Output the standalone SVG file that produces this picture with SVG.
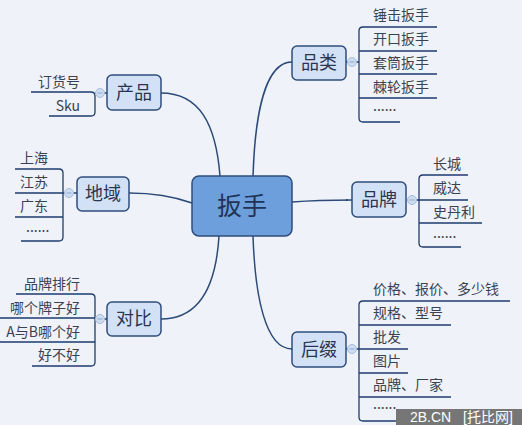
<svg xmlns="http://www.w3.org/2000/svg" width="522" height="425" viewBox="0 0 522 425">
<style>
.bg{fill:#eff3f9}
.node rect{fill:#d3e1f7;stroke:#2f4d7a;stroke-width:1.5}
.node text{font-family:"Noto Sans CJK SC","Liberation Sans",sans-serif;font-size:18px;fill:#2a3550;text-anchor:middle}
#center rect{fill:#6c9fdb;stroke:#2f4d7a;stroke-width:1.5}
#center text{font-size:25px;fill:#1f3358}
.conn path{fill:none;stroke:#2c4a78;stroke-width:1.5}
.br path{fill:none;stroke:#1e3d6e;stroke-width:1.3}
.leaf{font-family:"Noto Sans CJK SC","Liberation Sans",sans-serif;font-size:14px;fill:#3a4252}
.r{text-anchor:end}
.tog circle{fill:#cddcf1;stroke:#a5bddc;stroke-width:1}
.tog path{stroke:#8fa9cc;stroke-width:1}
</style>
<rect class="bg" x="0" y="0" width="522" height="425"/>
<g class="conn">
<path d="M161,93 C200,93 216,125 220,176"/>
<path d="M292,62 C265,62 255,115 253,176"/>
<path d="M129,193 C160,193 178,198 192,203"/>
<path d="M292,202 C318,200 335,200 352,200"/>
<path d="M161,319 C200,319 216,285 219,236"/>
<path d="M292,349 C265,349 255,295 253,236"/>
</g>
<g class="br">
<path d="M31,92 H91 Q95,92 95,96 V112 Q95,116 91,116 H49 M95,93 H96"/>
<path d="M437,27 H363 Q359,27 359,31 V118 Q359,122 363,122 H400 M359,51 H437 M359,74 H437 M359,98 H437 M356,62 H359"/>
<path d="M15,169 H59 Q63,169 63,173 V237 Q63,241 59,241 H21 M15,193 H65 M15,217 H63"/>
<path d="M468,175 H423 Q419,175 419,179 V243 Q419,247 423,247 H461 M416,200 H468 M419,223 H482"/>
<path d="M16,294 H91 Q95,294 95,298 V362 Q95,366 91,366 H32 M0,318 H96 M0,342 H95"/>
<path d="M510,301 H363 Q359,301 359,305 V417 Q359,421 363,421 H400 M356,349 H408 M359,325 H451 M359,373 H408 M359,397 H451"/>
<path d="M346,62 H348 M346,200 H348 M346,349 H348 M107,93 H104 M77,193 H73 M107,319 H104"/>
</g>
<g class="tog">
<circle cx="100" cy="93" r="4.5"/><path d="M97.5,93 H102.5"/>
<circle cx="352" cy="62" r="4.5"/><path d="M349.5,62 H354.5"/>
<circle cx="69" cy="193" r="4.5"/><path d="M66.5,193 H71.5"/>
<circle cx="412" cy="200" r="4.5"/><path d="M409.5,200 H414.5"/>
<circle cx="100" cy="319" r="4.5"/><path d="M97.5,319 H102.5"/>
<circle cx="352" cy="349" r="4.5"/><path d="M349.5,349 H354.5"/>
</g>
<g id="center" class="node"><rect x="192" y="176" width="100" height="60" rx="7"/><text x="242" y="215">扳手</text></g>
<g id="n-chanpin" class="node"><rect x="107" y="75" width="54" height="35" rx="5"/><text x="134" y="99">产品</text></g>
<g id="n-pinlei" class="node"><rect x="292" y="46" width="54" height="34" rx="5"/><text x="319" y="69">品类</text></g>
<g id="n-diyu" class="node"><rect x="77" y="177" width="52" height="34" rx="5"/><text x="103" y="200">地域</text></g>
<g id="n-pinpai" class="node"><rect x="352" y="182" width="54" height="35" rx="5"/><text x="379" y="206">品牌</text></g>
<g id="n-duibi" class="node"><rect x="107" y="302" width="54" height="34" rx="5"/><text x="134" y="325">对比</text></g>
<g id="n-houzhui" class="node"><rect x="292" y="332" width="54" height="35" rx="5"/><text x="319" y="356">后缀</text></g>
<g id="leaves-chanpin">
<text class="leaf r" x="80" y="87">订货号</text>
<text class="leaf r" x="80" y="111">Sku</text>
</g>
<g id="leaves-pinlei">
<text class="leaf" x="373" y="20">锤击扳手</text>
<text class="leaf" x="373" y="44">开口扳手</text>
<text class="leaf" x="373" y="68">套筒扳手</text>
<text class="leaf" x="373" y="92">棘轮扳手</text>
<text class="leaf" x="373" y="111">......</text>
</g>
<g id="leaves-diyu">
<text class="leaf" x="20" y="163">上海</text>
<text class="leaf" x="20" y="187">江苏</text>
<text class="leaf" x="20" y="211">广东</text>
<text class="leaf" x="26" y="232">......</text>
</g>
<g id="leaves-pinpai">
<text class="leaf" x="433" y="169">长城</text>
<text class="leaf" x="433" y="193">威达</text>
<text class="leaf" x="433" y="217">史丹利</text>
<text class="leaf" x="433" y="238">......</text>
</g>
<g id="leaves-duibi">
<text class="leaf r" x="80" y="289">品牌排行</text>
<text class="leaf r" x="80" y="313">哪个牌子好</text>
<text class="leaf r" x="80" y="337">A与B哪个好</text>
<text class="leaf r" x="80" y="360">好不好</text>
</g>
<g id="leaves-houzhui">
<text class="leaf" x="373" y="294">价格、报价、多少钱</text>
<text class="leaf" x="373" y="318">规格、型号</text>
<text class="leaf" x="373" y="342">批发</text>
<text class="leaf" x="373" y="366">图片</text>
<text class="leaf" x="373" y="390">品牌、厂家</text>
<text class="leaf" x="373" y="409">......</text>
</g>
<g id="watermark">
<rect x="396" y="409" width="126" height="16" fill="#767676"/>
<text x="410" y="422" font-family="'Liberation Sans','Noto Sans CJK SC',sans-serif" font-size="14" fill="#ffffff">2B.CN <tspan x="463">[托比网]</tspan></text>
</g>
</svg>
